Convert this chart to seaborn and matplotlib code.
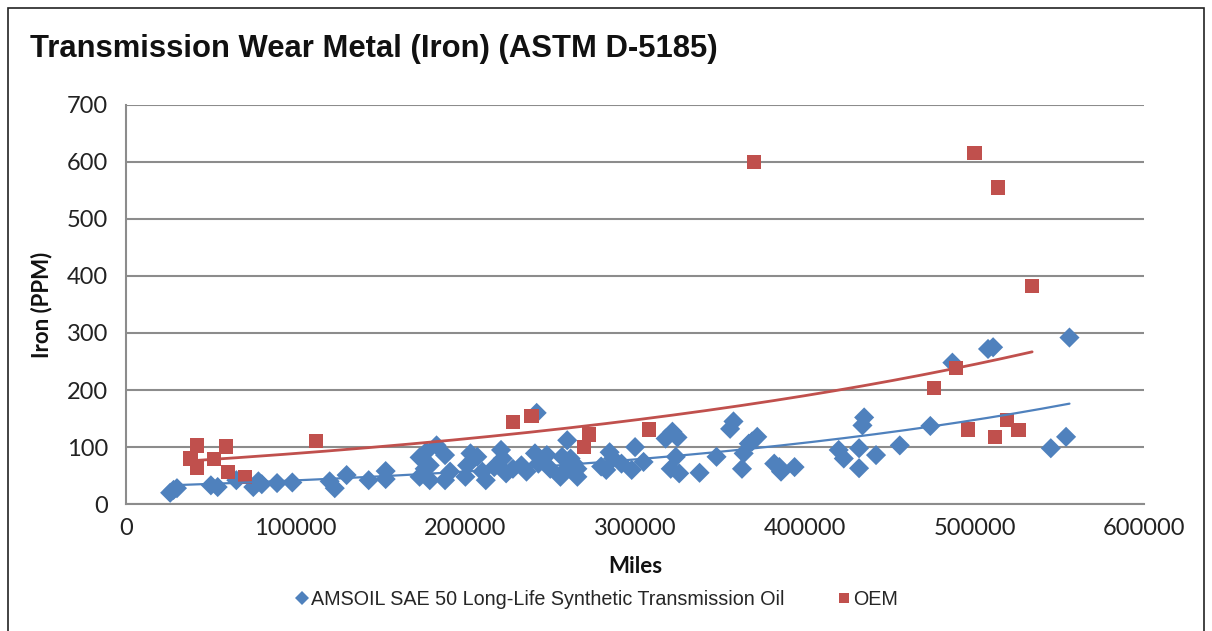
import numpy as np
import pandas as pd
import matplotlib
matplotlib.use("Agg")
import matplotlib.pyplot as plt
from matplotlib.patches import Rectangle
import seaborn as sns

# ---------------- data ----------------
amsoil_label = "AMSOIL SAE 50 Long-Life Synthetic Transmission Oil"
oem_label = "OEM"

amsoil_miles = [26000, 28000, 30000, 50000, 54000, 65000, 75000, 78000, 80000, 89000,
                98000, 120000, 123000, 130000, 143000, 153000, 153000, 173000, 177000, 173000,
                176000, 179000, 183000, 188000, 179000, 188000, 191000, 200000, 201000, 203000,
                207000, 210000, 212000, 217000, 221000, 222000, 224000, 228000, 233000, 236000,
                241000, 242000, 243000, 248000, 250000, 256000, 260000, 262000, 266000, 257000,
                259000, 264000, 266000, 280000, 285000, 287000, 283000, 292000, 298000, 300000,
                305000, 318000, 322000, 325000, 324000, 321000, 326000, 338000, 348000, 356000,
                358000, 363000, 364000, 367000, 369000, 372000, 382000, 385000, 386000, 394000,
                420000, 423000, 432000, 432000, 434000, 435000, 442000, 456000, 474000, 487000,
                508000, 511000, 545000, 554000, 556000]
amsoil_iron = [20, 25, 28, 33, 30, 42, 30, 40, 35, 37,
               38, 40, 28, 51, 42, 58, 44, 82, 92, 48,
               62, 68, 103, 86, 42, 42, 57, 48, 68, 89,
               83, 57, 42, 65, 95, 80, 54, 62, 68, 57,
               89, 160, 71, 86, 62, 48, 112, 80, 62, 83,
               60, 71, 48, 66, 91, 80, 60, 71, 60, 100,
               74, 115, 127, 117, 83, 62, 54, 55, 83, 132,
               145, 62, 89, 106, 110, 118, 71, 65, 57, 65,
               95, 80, 63, 98, 138, 152, 86, 103, 137, 248,
               272, 275, 98, 118, 292]

oem_miles = [38000, 42000, 42000, 52000, 59000, 60000, 70000, 112000, 228000, 239000,
             270000, 273000, 308000, 370000, 476000, 489000, 496000, 500000, 512000, 514000,
             519000, 526000, 534000]
oem_iron = [80, 103, 64, 79, 101, 57, 47, 111, 144, 155,
            100, 122, 131, 600, 203, 238, 131, 615, 118, 555,
            147, 130, 382]

x_ticks = [0, 100000, 200000, 300000, 400000, 500000, 600000]
y_ticks = [0, 100, 200, 300, 400, 500, 600, 700]

title_text = "Transmission Wear Metal (Iron) (ASTM D-5185)"
x_label = "Miles"
y_label = "Iron (PPM)"

blue = "#4F81BD"
red = "#C0504D"

df = pd.DataFrame({
    "Miles": amsoil_miles + oem_miles,
    "Iron": amsoil_iron + oem_iron,
    "Series": [amsoil_label] * len(amsoil_miles) + [oem_label] * len(oem_miles),
})

# ---------------- figure ----------------
sns.set_theme(style="white")
plt.rcParams["font.family"] = ["Lato", "DejaVu Sans"]

fig = plt.figure(figsize=(12.12, 6.31), dpi=100)
ax = fig.add_axes([0.104, 0.201, 0.840, 0.633])

sns.scatterplot(data=df, x="Miles", y="Iron", hue="Series", style="Series",
                markers={amsoil_label: "D", oem_label: "s"},
                palette={amsoil_label: blue, oem_label: red},
                s=105, linewidth=0, ax=ax, legend=True, zorder=3)

# exponential trendlines (Excel-style: least squares fit on ln(y))
def exp_trend(xs, ys):
    xs = np.asarray(xs, float)
    ys = np.asarray(ys, float)
    b, lna = np.polyfit(xs, np.log(ys), 1)
    xx = np.linspace(xs.min(), xs.max(), 200)
    return xx, np.exp(lna) * np.exp(b * xx)

bx, by = exp_trend(amsoil_miles, amsoil_iron)
rx, ry = exp_trend(oem_miles, oem_iron)
ax.plot(bx, by, color=blue, lw=1.6, zorder=4)
ax.plot(rx, ry, color=red, lw=2.0, zorder=4)

ax.set_xlim(0, 600000)
ax.set_ylim(0, 700)
ax.set_xticks(x_ticks)
ax.set_xticklabels([str(t) for t in x_ticks])
ax.set_yticks(y_ticks)
ax.set_yticklabels([str(t) for t in y_ticks])

ax.yaxis.grid(True, color="#8c8c8c", lw=1.5)
ax.xaxis.grid(False)
ax.set_axisbelow(True)
for side in ["top", "right"]:
    ax.spines[side].set_visible(False)
for side in ["left", "bottom"]:
    ax.spines[side].set_color("#8c8c8c")
    ax.spines[side].set_linewidth(1.5)
ax.tick_params(axis="both", which="major", direction="out", length=5, width=1.2,
               color="#8c8c8c", labelsize=17, labelcolor="#222222", pad=8)
ax.tick_params(axis="x", pad=5)

ax.set_xlabel(x_label, fontsize=16, fontweight="bold", color="#111111", labelpad=12)
ax.set_ylabel(y_label, fontsize=16, fontweight="bold", color="#111111", labelpad=10)

# legend
handles, labels = ax.get_legend_handles_labels()
ax.legend(handles, labels, loc="upper center", bbox_to_anchor=(0.462, -0.17), ncol=2,
          frameon=False, handletextpad=0.1, columnspacing=2.7,
          markerscale=0.7, handlelength=0.7,
          prop={"family": ["Liberation Sans", "DejaVu Sans"], "size": 14.2})

fig.text(0.025, 0.922, title_text, fontsize=22.3, fontweight="bold", color="#111111",
         family=["Liberation Sans", "DejaVu Sans"], va="center", ha="left")

# outer frame
fig.patches.append(Rectangle((0.0066, -0.05), 0.987, 1.05 - 0.0127, transform=fig.transFigure,
                             fill=False, edgecolor="#222222", lw=1.2))

fig.savefig("out.png", dpi=100, facecolor="white")
